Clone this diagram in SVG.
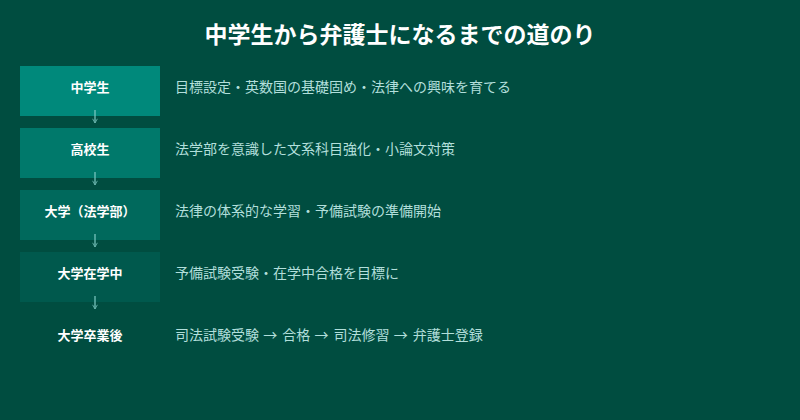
<svg xmlns="http://www.w3.org/2000/svg" width="800" height="420" viewBox="0 0 800 420">
<defs>
<style>
.title{font-family:"Noto Sans CJK JP","Noto Sans",sans-serif;font-size:23px;font-weight:bold;fill:#ffffff;text-anchor:middle}
.lbl{font-family:"Noto Sans CJK JP","Noto Sans",sans-serif;font-size:13px;font-weight:bold;fill:#ffffff;text-anchor:middle}
.desc{font-family:"Noto Sans CJK JP","Noto Sans",sans-serif;font-size:14px;fill:#B2DFDB}
.conn{stroke:#80CBC4;stroke-width:1.5;fill:none;opacity:0.8}
</style>
<marker id="ah" viewBox="0 0 10 10" refX="8" refY="5" markerWidth="6" markerHeight="6" orient="auto" markerUnits="userSpaceOnUse">
<path d="M1,1 L8,5 L1,9" fill="none" stroke="#80CBC4" stroke-width="1.5"/>
</marker>
</defs>
<rect width="800" height="420" fill="#004D40"/>
<text class="title" x="400" y="43">中学生から弁護士になるまでの道のり</text>
<g id="n1"><rect x="20" y="66" width="140" height="50" fill="#00897B"/><text class="lbl" x="90" y="92">中学生</text><text class="desc" x="175" y="92">目標設定・英数国の基礎固め・法律への興味を育てる</text></g>
<g id="n2"><rect x="20" y="128" width="140" height="50" fill="#00796B"/><text class="lbl" x="90" y="154">高校生</text><text class="desc" x="175" y="154">法学部を意識した文系科目強化・小論文対策</text></g>
<g id="n3"><rect x="20" y="190" width="140" height="50" fill="#00695C"/><text class="lbl" x="90" y="216">大学（法学部）</text><text class="desc" x="175" y="216">法律の体系的な学習・予備試験の準備開始</text></g>
<g id="n4"><rect x="20" y="252" width="140" height="50" fill="#00594D"/><text class="lbl" x="90" y="278">大学在学中</text><text class="desc" x="175" y="278">予備試験受験・在学中合格を目標に</text></g>
<g id="n5"><rect x="20" y="314" width="140" height="50" fill="#004D40"/><text class="lbl" x="90" y="340">大学卒業後</text><text class="desc" x="175" y="340">司法試験受験 <tspan dx="1">→</tspan><tspan dx="2"> 合格 </tspan><tspan dx="1">→</tspan><tspan dx="2"> 司法修習 </tspan><tspan dx="1">→</tspan><tspan dx="2"> 弁護士登録</tspan></text></g>
<g id="connectors">
<line class="conn" x1="95" y1="110" x2="95" y2="123" marker-end="url(#ah)"/>
<line class="conn" x1="95" y1="172" x2="95" y2="185" marker-end="url(#ah)"/>
<line class="conn" x1="95" y1="234" x2="95" y2="247" marker-end="url(#ah)"/>
<line class="conn" x1="95" y1="296" x2="95" y2="309" marker-end="url(#ah)"/>
</g>
</svg>
